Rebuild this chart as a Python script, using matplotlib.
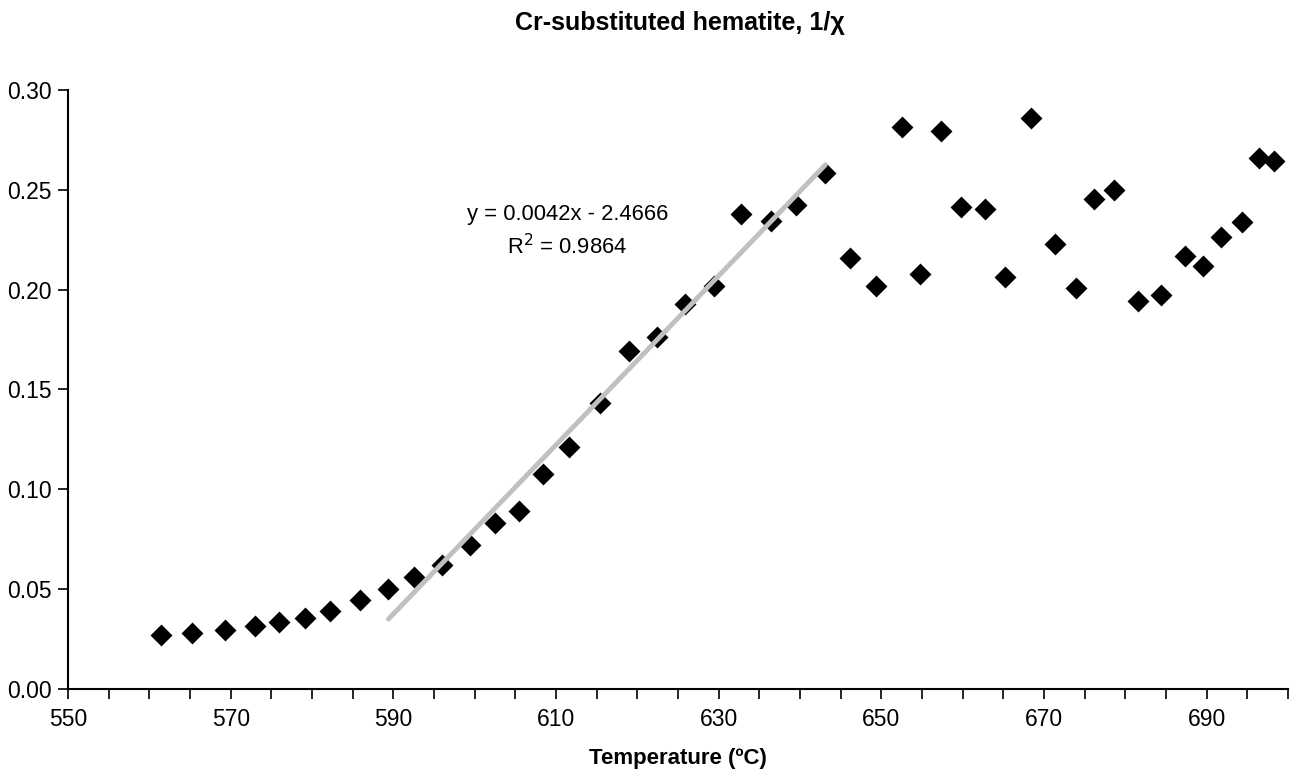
import numpy as np
import matplotlib
matplotlib.use('Agg')
import matplotlib.pyplot as plt
from matplotlib.ticker import MultipleLocator, FormatStrFormatter

plt.rcParams['font.family'] = ['Liberation Sans', 'DejaVu Sans']

# temperature (ºC) and 1/chi
temp = [561.4, 565.3, 569.3, 573.0, 576.0, 579.1, 582.2, 585.9, 589.4, 592.5,
        596.0, 599.4, 602.5, 605.5, 608.4, 611.6, 615.4, 619.0, 622.4, 625.8,
        629.4, 632.8, 636.4, 639.5, 643.1, 646.2, 649.3, 652.5, 654.7, 657.3,
        659.8, 662.7, 665.2, 668.4, 671.3, 673.9, 676.1, 678.6, 681.6, 684.4,
        687.3, 689.6, 691.8, 694.4, 696.4, 698.3]
inv_chi = [0.0270, 0.0282, 0.0294, 0.0316, 0.0337, 0.0357, 0.0392, 0.0447, 0.0501, 0.0562,
           0.0623, 0.0719, 0.0832, 0.0893, 0.1075, 0.1212, 0.1432, 0.1693, 0.1761, 0.1928,
           0.2018, 0.2380, 0.2342, 0.2424, 0.2586, 0.2161, 0.2018, 0.2816, 0.2077, 0.2793,
           0.2415, 0.2404, 0.2062, 0.2858, 0.2229, 0.2007, 0.2452, 0.2499, 0.1945, 0.1973,
           0.2168, 0.2118, 0.2262, 0.2340, 0.2661, 0.2644]

# range used for the linear trendline
fit_lo, fit_hi = 589.0, 644.0
eq_text = 'y = 0.0042x - 2.4666'
r2_text = 'R$^2$ = 0.9864'

temp = np.array(temp)
inv_chi = np.array(inv_chi)
mask = (temp >= fit_lo) & (temp <= fit_hi)
slope, icpt = np.polyfit(temp[mask], inv_chi[mask], 1)
xf = np.array([temp[mask].min(), temp[mask].max()])

fig = plt.figure(figsize=(12.94, 7.74), dpi=100)
ax = fig.add_axes([68/1294, 1-689/774, 1220/1294, 599/774])

ax.scatter(temp, inv_chi, marker='D', s=125, c='black', linewidths=0, zorder=2)
ax.plot(xf, slope*xf + icpt, color='#c0c0c0', lw=3.5, solid_capstyle='round', zorder=3)

ax.text(0.4094, 0.792, eq_text, transform=ax.transAxes, ha='center', va='center', fontsize=15.8)
ax.text(0.4094, 0.738, r2_text, transform=ax.transAxes, ha='center', va='center', fontsize=15.8)

ax.set_xlim(550, 700)
ax.set_ylim(0, 0.30)
ax.xaxis.set_minor_locator(MultipleLocator(5))
ax.set_xticks([550, 570, 590, 610, 630, 650, 670, 690])
ax.yaxis.set_major_locator(MultipleLocator(0.05))
ax.yaxis.set_major_formatter(FormatStrFormatter('%.2f'))
ax.tick_params(axis='both', which='both', direction='out', labelsize=16.5, width=1.2, color='black')
ax.tick_params(axis='x', which='both', length=7, pad=7)
ax.tick_params(axis='y', length=7, pad=5)

for s in ['top', 'right']:
    ax.spines[s].set_visible(False)
for s in ['left', 'bottom']:
    ax.spines[s].set_linewidth(1.5)

ax.set_xlabel('Temperature (ºC)', fontsize=16, fontweight='bold', labelpad=12)
fig.text(680/1294, 1-23/774, 'Cr-substituted hematite, 1/χ', ha='center', va='center',
         fontsize=18, fontweight='bold')

plt.savefig('out.png', dpi=100)
